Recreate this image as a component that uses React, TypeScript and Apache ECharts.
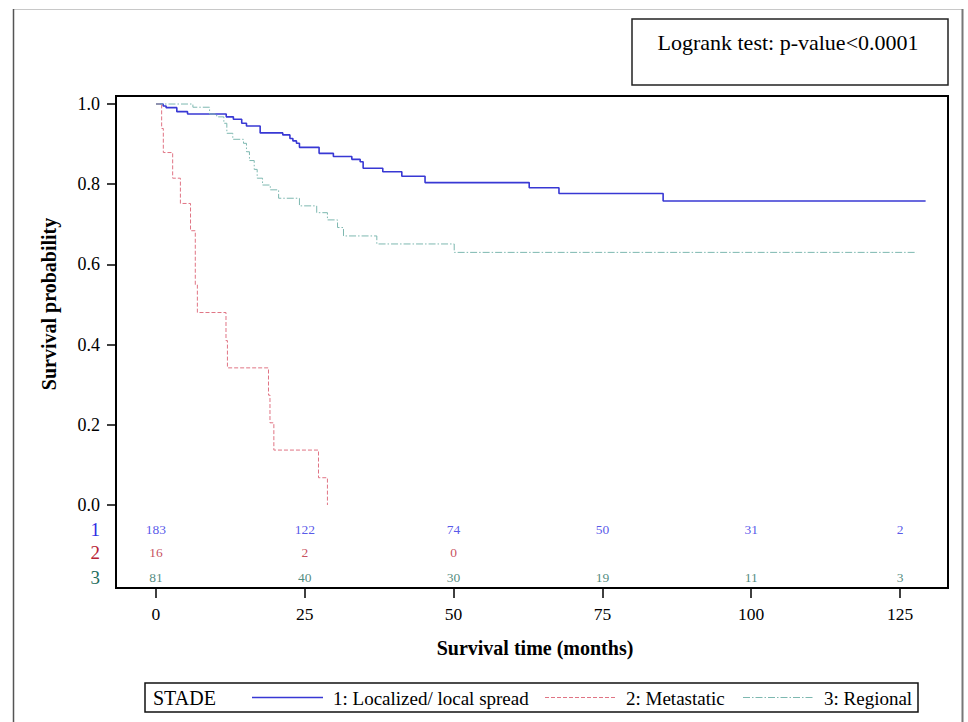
import React, { useEffect, useRef } from "react";
import * as echarts from "echarts";

const FONT = "Liberation Serif, Times New Roman, Times, serif";

// Kaplan-Meier step points (time in months, survival probability)
const stage1Times = [0, 1.2, 1.7, 3.5, 5.3, 11.8, 13.0, 14.4, 15.2, 17.5, 21.3, 22.5, 23.0, 23.6, 24.1, 27.4, 29.8, 32.9, 34.3, 34.8, 38.1, 41.3, 45.2, 62.7, 67.7, 85.2, 129.3];
const stage1Surv = [1.0, 0.995, 0.991, 0.981, 0.975, 0.968, 0.962, 0.952, 0.945, 0.928, 0.923, 0.914, 0.908, 0.902, 0.892, 0.877, 0.869, 0.862, 0.856, 0.84, 0.831, 0.82, 0.804, 0.791, 0.777, 0.758, 0.758];

const stage2Times = [0, 0.95, 1.23, 2.8, 4.1, 5.8, 6.6, 6.95, 11.76, 12.0, 18.9, 19.15, 19.8, 27.3, 28.8];
const stage2Surv = [1.0, 0.939, 0.879, 0.815, 0.752, 0.684, 0.549, 0.48, 0.41, 0.342, 0.274, 0.205, 0.137, 0.068, 0.0];

const stage3Times = [0, 6.2, 9.0, 10.2, 11.4, 11.9, 12.9, 14.7, 15.2, 15.7, 16.5, 17.0, 17.9, 19.2, 20.6, 24.1, 27.0, 28.8, 30.5, 31.5, 37.1, 50.1, 127.8];
const stage3Surv = [1.0, 0.992, 0.975, 0.968, 0.952, 0.927, 0.912, 0.902, 0.881, 0.859, 0.837, 0.815, 0.798, 0.786, 0.765, 0.746, 0.729, 0.711, 0.692, 0.671, 0.651, 0.63, 0.63];

// Number at risk table
const riskTimes = [0, 25, 50, 75, 100, 125];
const risk1 = [183, 122, 74, 50, 31, 2];
const risk2 = [16, 2, 0];
const risk3 = [81, 40, 30, 19, 11, 3];

const xTicks = [0, 25, 50, 75, 100, 125];
const yTicks = [0, 0.2, 0.4, 0.6, 0.8, 1.0];
const groupLabels = ["1", "2", "3"];
const seriesNames = ["1: Localized/ local spread", "2: Metastatic", "3: Regional"];
const legendTitle = "STADE";
const testText = "Logrank test: p-value<0.0001";

// axis extents (the frame also holds the at-risk table below 0)
const X_MIN = -6.72;
const X_MAX = 133.06;
const Y_MIN = -0.207;
const Y_MAX = 1.02;
// vertical placement of at-risk rows in axis units (below 0)
const ROW_Y = [-0.1796, -0.1197, -0.0623];
const ROW_GROUP = [2, 1, 0];

const LINE_COLORS = ["#3838d4", "#e07484", "#7db8b0"];
const TEXT_COLORS = ["#2c2ce4", "#b82234", "#1f6e5e"];
const LINE_WIDTHS = [1.6, 1, 1];
const LINE_DASH: any[] = [null, [4, 2], [7, 2, 1.5, 2]];

const GRID = { left: 116, top: 96, width: 832, height: 492 };

export default function App() {
  const ref = useRef<HTMLDivElement>(null);
  const tickRef = useRef<HTMLDivElement>(null);

  useEffect(() => {
    if (!ref.current || !tickRef.current) return;
    const chart = echarts.init(ref.current, undefined, { renderer: "svg" });
    const tickChart = echarts.init(tickRef.current, undefined, { renderer: "svg" });

    const toPairs = (ts: number[], ss: number[]) => ts.map((t, i) => [t, ss[i]]);
    const rowOf = (g: number) => ROW_Y[ROW_GROUP.indexOf(g)];
    const riskData = (counts: number[], g: number) =>
      counts.map((n, i) => [riskTimes[i], rowOf(g), n]);

    const curves = [
      toPairs(stage1Times, stage1Surv),
      toPairs(stage2Times, stage2Surv),
      toPairs(stage3Times, stage3Surv),
    ];

    const curveSeries = curves.map((data, i) => ({
      type: "line",
      name: seriesNames[i],
      data,
      step: "end",
      symbol: "none",
      showSymbol: false,
      color: LINE_COLORS[i],
      lineStyle: {
        color: LINE_COLORS[i],
        width: LINE_WIDTHS[i],
        type: LINE_DASH[i] ? LINE_DASH[i] : "solid",
      },
      z: 3,
    }));

    const riskSeries = [risk1, risk2, risk3].map((counts, g) => ({
      type: "scatter",
      name: "risk" + (g + 1),
      data: riskData(counts, g),
      symbol: "circle",
      symbolSize: 1,
      itemStyle: { color: "rgba(0,0,0,0)" },
      label: {
        show: true,
        position: "inside",
        formatter: (p: any) => String(p.value[2]),
        color: TEXT_COLORS[g],
        fontFamily: FONT,
        fontSize: 13.5,
      },
      silent: true,
      z: 4,
    }));

    // ascending list of y-label positions: at-risk row labels, then probability ticks
    const yLabelValues = [...ROW_Y, ...yTicks];

    // legend drawn as graphic elements (layout from reference)
    const legendItems: any[] = [];
    const legendStarts = [252, 545, 743];
    seriesNames.forEach((name, i) => {
      const x0 = legendStarts[i];
      legendItems.push({
        type: "line",
        shape: { x1: x0, y1: 697.5, x2: x0 + 71, y2: 697.5 },
        style: {
          stroke: LINE_COLORS[i],
          lineWidth: LINE_WIDTHS[i],
          lineDash: LINE_DASH[i] || undefined,
        },
        silent: true,
      });
      legendItems.push({
        type: "text",
        x: x0 + 81,
        y: 698,
        style: { text: name, fontFamily: FONT, fontSize: 19, fill: "#000", align: "left", verticalAlign: "middle" },
        silent: true,
      });
    });

    const baseGraphics: any[] = [
      // outer frame
      { type: "line", shape: { x1: 13, y1: 9.5, x2: 963, y2: 9.5 }, style: { stroke: "#c8c8c8", lineWidth: 1 }, silent: true },
      { type: "line", shape: { x1: 13.5, y1: 9, x2: 13.5, y2: 722 }, style: { stroke: "#555", lineWidth: 1.5 }, silent: true },
      { type: "line", shape: { x1: 962.5, y1: 9, x2: 962.5, y2: 722 }, style: { stroke: "#777", lineWidth: 2 }, silent: true },
      // logrank box
      { type: "rect", shape: { x: 632, y: 19, width: 316, height: 66 }, style: { fill: "#fff", stroke: "#222", lineWidth: 1.5 }, silent: true },
      {
        type: "text",
        x: 788,
        y: 42,
        style: { text: testText, fontFamily: FONT, fontSize: 22, fill: "#000", align: "center", verticalAlign: "middle" },
        silent: true,
      },
      // axis titles
      {
        type: "text",
        x: 49,
        y: 304,
        rotation: Math.PI / 2,
        style: { text: "Survival probability", fontFamily: FONT, fontSize: 20, fontWeight: "bold", fill: "#000", align: "center", verticalAlign: "middle" },
        silent: true,
      },
      {
        type: "text",
        x: 535,
        y: 648,
        style: { text: "Survival time (months)", fontFamily: FONT, fontSize: 20, fontWeight: "bold", fill: "#000", align: "center", verticalAlign: "middle" },
        silent: true,
      },
      // legend frame
      { type: "rect", shape: { x: 145, y: 683, width: 773, height: 29 }, style: { fill: "rgba(0,0,0,0)", stroke: "#111", lineWidth: 1.5 }, silent: true },
      {
        type: "text",
        x: 153,
        y: 698,
        style: { text: legendTitle, fontFamily: FONT, fontSize: 20, fill: "#000", align: "left", verticalAlign: "middle" },
        silent: true,
      },
      ...legendItems,
    ];

    chart.setOption({
      animation: false,
      grid: {
        ...GRID,
        show: true,
        borderColor: "#000",
        borderWidth: 2,
        outerBoundsMode: "none",
      },
      xAxis: {
        type: "value",
        min: X_MIN,
        max: X_MAX,
        axisLine: { show: true, onZero: false, lineStyle: { color: "#000", width: 2 } },
        splitLine: { show: false },
        axisTick: { show: false },
        axisLabel: {
          show: true,
          margin: 17,
          color: "#000",
          fontFamily: FONT,
          fontSize: 17.5,
          customValues: xTicks,
          formatter: (v: number) => String(v),
        },
      },
      yAxis: {
        type: "value",
        min: Y_MIN,
        max: Y_MAX,
        axisLine: { show: true, onZero: false, lineStyle: { color: "#000", width: 2 } },
        splitLine: { show: false },
        axisTick: { show: false },
        axisLabel: {
          show: true,
          margin: 16,
          color: "#000",
          fontFamily: FONT,
          fontSize: 18,
          customValues: yLabelValues,
          formatter: (v: number) => {
            for (let i = 0; i < ROW_Y.length; i++) {
              if (Math.abs(v - ROW_Y[i]) < 1e-6) {
                const g = ROW_GROUP[i];
                return "{g" + (g + 1) + "|" + groupLabels[g] + "}";
              }
            }
            return v.toFixed(1);
          },
          rich: {
            g1: { color: TEXT_COLORS[0], fontSize: 19, fontFamily: FONT },
            g2: { color: TEXT_COLORS[1], fontSize: 19, fontFamily: FONT },
            g3: { color: TEXT_COLORS[2], fontSize: 19, fontFamily: FONT },
          },
        },
      },
      graphic: baseGraphics,
      series: [...curveSeries, ...riskSeries],
    });

    // overlay chart with the same grid and scales that draws only the outward tick marks
    tickChart.setOption({
      animation: false,
      grid: { ...GRID, show: false, outerBoundsMode: "none" },
      xAxis: {
        type: "value",
        min: X_MIN,
        max: X_MAX,
        axisLine: { show: true, onZero: false, lineStyle: { color: "rgba(0,0,0,0)", width: 2 } },
        axisTick: { show: true, inside: false, length: 10, lineStyle: { color: "#000", width: 1.5 }, customValues: xTicks },
        axisLabel: { show: false, customValues: xTicks },
        splitLine: { show: false },
      },
      yAxis: {
        type: "value",
        min: Y_MIN,
        max: Y_MAX,
        axisLine: { show: true, onZero: false, lineStyle: { color: "rgba(0,0,0,0)", width: 2 } },
        axisTick: { show: true, inside: false, length: 9, lineStyle: { color: "#000", width: 1.5 }, customValues: yTicks },
        axisLabel: { show: false, customValues: yTicks },
        splitLine: { show: false },
      },
      series: [{ type: "line", data: [], symbol: "none", silent: true }],
    });

    return () => {
      tickChart.dispose();
      chart.dispose();
    };
  }, []);

  return (
    <div style={{ position: "fixed", left: 0, top: 0, width: 968, height: 722, background: "#fff" }}>
      <div ref={ref} style={{ position: "absolute", left: 0, top: 0, width: 968, height: 722 }} />
      <div
        ref={tickRef}
        style={{ position: "absolute", left: 0, top: 0, width: 968, height: 722, pointerEvents: "none" }}
      />
    </div>
  );
}
